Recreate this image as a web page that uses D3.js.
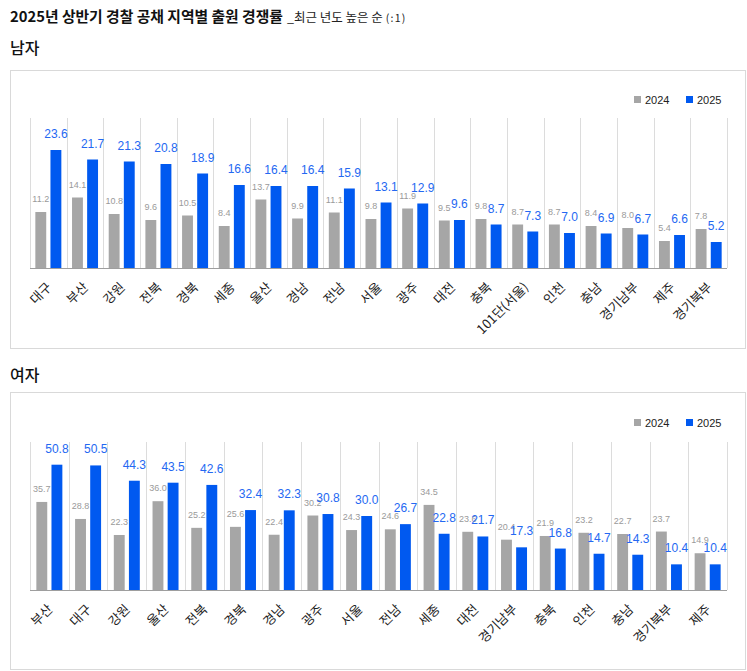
<!DOCTYPE html>
<html>
<head>
<meta charset="utf-8">
<script src="https://cdn.jsdelivr.net/npm/d3@7"></script>
<style>
  body { margin: 0; background: #fff; }
  text { font-family: 'Liberation Sans', Arial, 'Noto Sans CJK KR', sans-serif; }
  .ko { font-family: 'Noto Sans CJK KR', 'Liberation Sans', sans-serif; }
</style>
</head>
<body>
<div id="container"></div>
<script>
const years = ['2024', '2025'];

const maleRegions = ['대구', '부산', '강원', '전북', '경북', '세종', '울산', '경남', '전남', '서울',
  '광주', '대전', '충북', '101단(서울)', '인천', '충남', '경기남부', '제주', '경기북부'];
const male2024 = [11.2, 14.1, 10.8, 9.6, 10.5, 8.4, 13.7, 9.9, 11.1, 9.8, 11.9, 9.5, 9.8, 8.7, 8.7, 8.4, 8.0, 5.4, 7.8];
const male2025 = [23.6, 21.7, 21.3, 20.8, 18.9, 16.6, 16.4, 16.4, 15.9, 13.1, 12.9, 9.6, 8.7, 7.3, 7.0, 6.9, 6.7, 6.6, 5.2];

const femaleRegions = ['부산', '대구', '강원', '울산', '전북', '경북', '경남', '광주', '서울', '전남',
  '세종', '대전', '경기남부', '충북', '인천', '충남', '경기북부', '제주'];
const female2024 = [35.7, 28.8, 22.3, 36.0, 25.2, 25.6, 22.4, 30.2, 24.3, 24.6, 34.5, 23.6, 20.4, 21.9, 23.2, 22.7, 23.7, 14.9];
const female2025 = [50.8, 50.5, 44.3, 43.5, 42.6, 32.4, 32.3, 30.8, 30.0, 26.7, 22.8, 21.7, 17.3, 16.8, 14.7, 14.3, 10.4, 10.4];

const W = 747; const H = 671;
const barColor = {'2024': '#a6a6a6', '2025': '#0059f0'};
const labelColor = {'2024': '#9a9a9a', '2025': '#2468f2'};

const svg = d3.select('#container').append('svg')
    .attr('width', W)
    .attr('height', H);

// title
const title = svg.append('text').attr('class', 'ko').attr('x', 10).attr('y', 22);
title.append('tspan').attr('font-size', 14.8).attr('font-weight', 700).attr('fill', '#111')
    .text('2025년 상반기 경찰 공채 지역별 출원 경쟁률');
title.append('tspan').attr('font-size', 12.5).attr('fill', '#222').attr('dx', 4).text('_최근 년도 높은 순');
title.append('tspan').attr('font-size', 10.5).attr('fill', '#222').attr('dx', 3)
    .attr('letter-spacing', 1.2).text('(:1)');

const drawChart = (opt) => {
  const g = svg.append('g');
  const rows = opt.regions.map((r, i) => ({region: r, '2024': opt.v2024[i], '2025': opt.v2025[i]}));

  g.append('text').attr('class', 'ko')
      .attr('x', 10).attr('y', opt.headY)
      .attr('font-size', 16).attr('font-weight', 500).attr('fill', '#111')
      .text(opt.head);

  g.append('rect')
      .attr('x', 10.5).attr('y', opt.boxTop + 0.5)
      .attr('width', 735).attr('height', opt.boxH)
      .attr('fill', '#fff').attr('stroke', '#d9d9d9');

  const x = d3.scaleBand().domain(opt.regions).range([30, 727]);
  const bw = x.bandwidth();
  const sub = d3.scaleBand().domain(years)
      .range([(bw - 26) / 2, (bw + 26) / 2])
      .paddingInner(0.28);
  const y = d3.scaleLinear().domain([0, opt.max]).range([opt.base, opt.top]);

  // vertical grid at category boundaries
  const bounds = opt.regions.map((r) => x(r)).concat([x.range()[1]]);
  g.append('g').selectAll('line').data(bounds).join('line')
      .attr('x1', (d) => Math.round(d) + 0.5).attr('x2', (d) => Math.round(d) + 0.5)
      .attr('y1', opt.top).attr('y2', opt.base)
      .attr('stroke', '#dcdcdc');

  const grp = g.append('g').selectAll('g').data(rows).join('g')
      .attr('transform', (d) => 'translate(' + x(d.region) + ',0)');

  grp.selectAll('rect').data((d) => years.map((k) => ({k: k, v: d[k]}))).join('rect')
      .attr('x', (d) => sub(d.k))
      .attr('width', sub.bandwidth())
      .attr('y', (d) => y(d.v))
      .attr('height', (d) => opt.base - y(d.v))
      .attr('fill', (d) => barColor[d.k]);

  // value labels (2024 first so 2025 sits on top)
  grp.selectAll('text.val').data((d) => years.map((k) => ({k: k, v: d[k]}))).join('text')
      .attr('class', 'val')
      .attr('x', (d) => sub(d.k) + sub.bandwidth() / 2)
      .attr('y', (d) => y(d.v) - (d.k === '2024' ? 10 : 12))
      .attr('text-anchor', 'middle')
      .attr('font-size', (d) => d.k === '2024' ? 9 : 12)
      .attr('fill', (d) => labelColor[d.k])
      .text((d) => d.v.toFixed(1));

  // baseline
  g.append('line')
      .attr('x1', 30).attr('x2', 727)
      .attr('y1', opt.base + 0.5).attr('y2', opt.base + 0.5)
      .attr('stroke', '#9e9e9e').attr('stroke-width', 1.2);

  // category labels, rotated
  g.append('g').selectAll('text').data(opt.regions).join('text')
      .attr('class', 'ko')
      .attr('transform', (d) => 'translate(' + (x(d) + bw / 2 + 4) + ',' + (opt.base + 20) + ') rotate(-45)')
      .attr('text-anchor', 'end')
      .attr('font-size', 13)
      .attr('fill', '#222')
      .text((d) => d);

  // legend
  const lg = g.append('g').selectAll('g').data(years).join('g')
      .attr('transform', (d, i) => 'translate(' + (634 + i * 52) + ',' + opt.legendY + ')');
  lg.append('rect').attr('width', 7).attr('height', 7).attr('fill', (d) => barColor[d]);
  lg.append('text').attr('x', 11).attr('y', 7.5)
      .attr('font-size', 11).attr('fill', '#222')
      .text((d) => d);
};

drawChart({head: '남자', headY: 54, boxTop: 70, boxH: 278, top: 118, base: 268, max: 30, legendY: 96,
  regions: maleRegions, v2024: male2024, v2025: male2025});
drawChart({head: '여자', headY: 381, boxTop: 392, boxH: 277, top: 442, base: 590, max: 60, legendY: 419,
  regions: femaleRegions, v2024: female2024, v2025: female2025});
</script>
</body>
</html>
